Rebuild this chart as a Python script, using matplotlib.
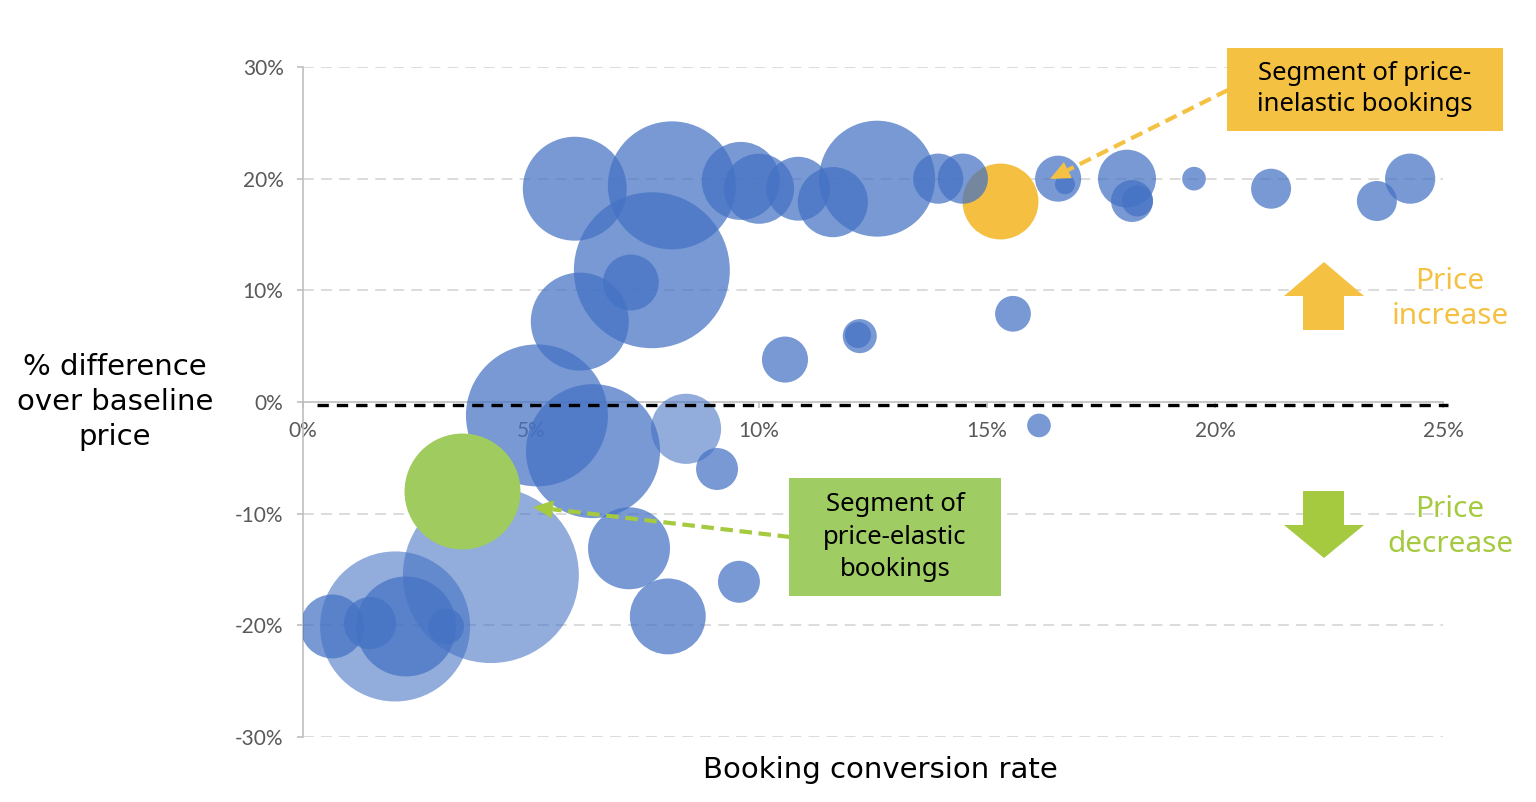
import matplotlib
matplotlib.use("Agg")
import matplotlib.pyplot as plt
from matplotlib.patches import Polygon, Rectangle
from matplotlib.ticker import FuncFormatter
import matplotlib.transforms as mtransforms
import numpy as np

# ---------------- data ----------------
# booking conversion rate (%), price difference over baseline (%), booking volume (bubble area)
blue_conv = [5.96, 8.09, 7.65, 7.19, 6.07, 9.6, 10.0, 10.86, 11.62, 12.59, 13.93, 14.47,
             10.57, 12.21, 12.17, 16.56, 16.71, 18.07, 18.18, 18.3, 19.54, 21.23, 23.55, 24.28,
             15.57, 16.14, 5.13, 6.36, 9.08, 2.26, 0.64, 1.47, 3.14, 7.15, 8.0, 9.56]
blue_diff = [19.1, 19.4, 11.8, 10.7, 7.2, 19.8, 19.1, 19.1, 17.9, 20.0, 20.0, 20.0,
             3.8, 5.9, 6.0, 20.0, 19.5, 20.0, 18.0, 18.0, 20.0, 19.1, 18.0, 20.0,
             7.9, -2.1, -1.2, -4.4, -6.0, -20.1, -20.1, -19.8, -20.1, -13.1, -19.2, -16.1]
blue_volume = [27.0, 41.0, 60.8, 7.8, 24.0, 15.2, 12.3, 10.2, 12.3, 33.6, 6.3, 6.3,
               5.3, 2.9, 1.7, 5.3, 1.0, 8.4, 4.4, 2.4, 1.4, 4.0, 4.0, 6.3,
               3.2, 1.4, 50.4, 44.9, 4.4, 25.0, 10.2, 6.8, 3.2, 16.8, 14.4, 4.4]

light_conv = [8.4, 4.12, 2.02]
light_diff = [-2.4, -15.5, -20.1]
light_volume = [12.3, 77.4, 56.3]

inelastic_conv = [15.28]
inelastic_diff = [18.0]
inelastic_volume = [14.4]

elastic_conv = [3.49]
elastic_diff = [-8.0]
elastic_volume = [33.6]

x_ticks = [0, 5, 10, 15, 20, 25]
y_ticks = [-30, -20, -10, 0, 10, 20, 30]

BLUE = "#4472C4"
ORANGE = "#F5BF42"
GREEN = "#A0CB5E"
GREEN_TXT = "#A5C93F"
GRAY_TXT = "#595959"

W, H = 1536, 802
fig = plt.figure(figsize=(W / 100, H / 100), dpi=100)


def fx(px):
    return px / W


def fy(py):
    return 1 - py / H


ax = fig.add_axes([fx(303), fy(737), fx(1443) - fx(303), fy(67) - fy(737)])
ax.set_xlim(0, 25)
ax.set_ylim(-30, 30)

SCALE = 207.36  # pt^2 per volume unit


def sizes(v):
    return [SCALE * a for a in v]


ax.scatter(light_conv, light_diff, s=sizes(light_volume), color=BLUE, alpha=0.58,
           linewidths=0, zorder=3)
ax.scatter(inelastic_conv, inelastic_diff, s=sizes(inelastic_volume), color=ORANGE,
           linewidths=0, zorder=3)
ax.scatter(blue_conv, blue_diff, s=sizes(blue_volume), color=BLUE, alpha=0.72,
           linewidths=0, zorder=4)
ax.scatter(elastic_conv, elastic_diff, s=sizes(elastic_volume), color=GREEN,
           linewidths=0, zorder=5)

# grid
for yv in y_ticks:
    if yv != 0:
        ax.axhline(yv, color="#D9D9D9", lw=1.3, ls=(0, (6, 4)), zorder=1)

# spines
for s in ["top", "right"]:
    ax.spines[s].set_visible(False)
ax.spines["left"].set_color("#BFBFBF")
ax.spines["left"].set_linewidth(1.2)
ax.spines["bottom"].set_position(("data", 0))
ax.spines["bottom"].set_color("#BFBFBF")
ax.spines["bottom"].set_linewidth(1.2)

ax.set_xticks(x_ticks)
ax.set_yticks(y_ticks)
fmt = FuncFormatter(lambda v, p: f"{v:.0f}%")
ax.xaxis.set_major_formatter(fmt)
ax.yaxis.set_major_formatter(fmt)
ax.tick_params(axis="y", length=4, width=1.2, color="#BFBFBF", pad=10,
               labelsize=15, labelcolor=GRAY_TXT)
ax.tick_params(axis="x", length=4, width=1.2, color="#BFBFBF", pad=10,
               labelsize=15, labelcolor=GRAY_TXT)
for lab in ax.get_xticklabels() + ax.get_yticklabels():
    lab.set_fontfamily("Lato")

# baseline dashed line (slightly below the axis line)
off = mtransforms.offset_copy(ax.transData, fig=fig, x=0, y=-2.2, units="points")
ax.plot([0.3, 25.1], [0, 0], color="black", lw=2.4, ls=(0, (3.4, 2.4)),
        transform=off, zorder=6, clip_on=False)

# axis titles
fig.text(fx(115), fy(402), "% difference\nover baseline\nprice", ha="center", va="center",
         fontsize=21, family="DejaVu Sans", linespacing=1.33)
fig.text(fx(880), fy(770), "Booking conversion rate", ha="center", va="center",
         fontsize=21, family="DejaVu Sans")

TXT_FONT = "Noto Sans"

# annotation boxes
fig.patches.append(Rectangle((fx(1227), fy(131)), fx(1503) - fx(1227), fy(48) - fy(131),
                             transform=fig.transFigure, facecolor="#F5C143",
                             edgecolor="none", zorder=10))
fig.text(fx(1365), fy(89), "Segment of price-\ninelastic bookings", ha="center",
         va="center", fontsize=18.5, family=TXT_FONT, color="black", linespacing=1.3,
         zorder=11)

fig.patches.append(Rectangle((fx(789), fy(596)), fx(1001) - fx(789), fy(478) - fy(596),
                             transform=fig.transFigure, facecolor="#A0CC64",
                             edgecolor="none", zorder=10))
fig.text(fx(895), fy(537), "Segment of\nprice-elastic\nbookings", ha="center",
         va="center", fontsize=18.5, family=TXT_FONT, color="black", linespacing=1.38,
         zorder=11)


def dashed_arrow(p0, p1, color):
    (x0, y0), (x1, y1) = p0, p1
    d = np.hypot(x1 - x0, y1 - y0)
    ux, uy = (x1 - x0) / d, (y1 - y0) / d
    hl = 20
    bx, by = x1 - ux * hl, y1 - uy * hl
    fig.lines.append(plt.Line2D([fx(x0), fx(bx)], [fy(y0), fy(by)], transform=fig.transFigure,
                                color=color, lw=3, ls=(0, (3, 1.6)), zorder=9))
    px_, py_ = -uy, ux
    hw = 9
    pts = [(x1, y1), (bx + px_ * hw, by + py_ * hw), (bx - px_ * hw, by - py_ * hw)]
    fig.patches.append(Polygon([(fx(a), fy(b)) for a, b in pts], closed=True,
                               transform=fig.transFigure, facecolor=color,
                               edgecolor="none", zorder=9))


dashed_arrow((1228, 90), (1050, 179), "#F5C143")
dashed_arrow((790, 537), (533, 507), GREEN_TXT)

# block arrows
up = [(1303, 330), (1303, 296), (1284, 296), (1324, 262), (1364, 296), (1344, 296), (1344, 330)]
down = [(1303, 491), (1344, 491), (1344, 525), (1364, 525), (1324, 558), (1284, 525), (1303, 525)]
fig.patches.append(Polygon([(fx(a), fy(b)) for a, b in up], closed=True,
                           transform=fig.transFigure, facecolor="#F5C143", edgecolor="none"))
fig.patches.append(Polygon([(fx(a), fy(b)) for a, b in down], closed=True,
                           transform=fig.transFigure, facecolor=GREEN_TXT, edgecolor="none"))

fig.text(fx(1450), fy(299), "Price\nincrease", ha="center", va="center", fontsize=21.5,
         family=TXT_FONT, color="#F5C143", linespacing=1.3)
fig.text(fx(1450), fy(527), "Price\ndecrease", ha="center", va="center", fontsize=21.5,
         family=TXT_FONT, color=GREEN_TXT, linespacing=1.3)

fig.savefig("out.png", dpi=100)
